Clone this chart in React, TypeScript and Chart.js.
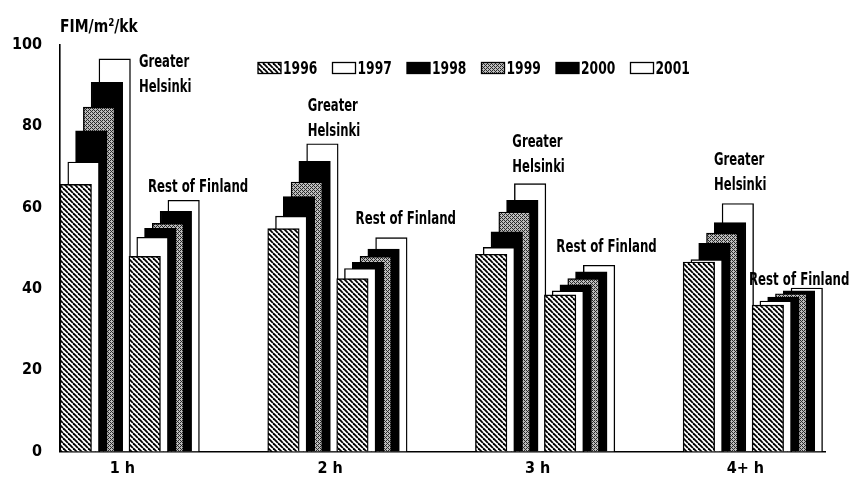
import { useEffect, useRef } from 'react';
import { Chart, registerables } from 'chart.js';

Chart.register(...registerables);

// ---------- data ----------
const categories = ['1 h', '2 h', '3 h', '4+ h'];
const years = ['1996', '1997', '1998', '1999', '2000', '2001'];
const yTicks = [0, 20, 40, 60, 80, 100];
const yAxisTitle = 'FIM/m²/kk';
const helsinkiLabel = ['Greater', 'Helsinki'];
const restLabel = ['Rest of Finland'];

const helsinki1996 = [65.7, 54.8, 48.5, 46.6];
const helsinki1997 = [71.2, 57.9, 50.2, 47.2];
const helsinki1998 = [78.9, 62.7, 54.0, 51.2];
const helsinki1999 = [84.7, 66.3, 58.9, 53.7];
const helsinki2000 = [90.8, 71.4, 61.8, 56.3];
const helsinki2001 = [96.6, 75.7, 65.9, 61.0];

const rest1996 = [48.0, 42.5, 38.5, 36.0];
const rest1997 = [52.7, 45.0, 39.5, 37.0];
const rest1998 = [54.9, 46.5, 41.0, 38.0];
const rest1999 = [56.1, 48.0, 42.5, 38.8];
const rest2000 = [59.1, 49.8, 44.2, 39.5];
const rest2001 = [61.8, 52.6, 45.8, 40.2];

const helsinkiSeries = [helsinki1996, helsinki1997, helsinki1998, helsinki1999, helsinki2000, helsinki2001];
const restSeries = [rest1996, rest1997, rest1998, rest1999, rest2000, rest2001];

// ---------- layout ----------
const FONT_FAMILY = '"DejaVu Sans Condensed", "Liberation Sans Narrow", sans-serif';
const font = (size: number) => `bold ${size}px ${FONT_FAMILY}`;
const BAR_PX = 31.5;
const BAR_W_UNITS = 0.1517;
const YEAR_STEP = 0.0375;
const GROUP_STEP = 0.332;
const X_MAX = 3.683;
const TICK_SHIFT = 0.3;

// per-category label offsets (px) relative to the back (2001) bar
const helsinkiDx = [40, 1, -2, -8];
const helsinkiDy = [29, -12, -16, -18];
const restDx = [-20, -20, -27, -42];
const restDy = [-13, -18, -18, -7];

function makeHatch(): CanvasPattern | string {
  const c = document.createElement('canvas');
  const s = 5;
  c.width = s; c.height = s;
  const g = c.getContext('2d')!;
  g.fillStyle = '#ffffff';
  g.fillRect(0, 0, s, s);
  g.strokeStyle = '#000000';
  g.lineWidth = 1.8;
  for (const k of [-s, 0, s]) {
    g.beginPath();
    g.moveTo(k, 0);
    g.lineTo(k + s, s);
    g.stroke();
  }
  return g.createPattern(c, 'repeat') || '#777';
}

function makeSpeckle(): CanvasPattern | string {
  const c = document.createElement('canvas');
  c.width = 4; c.height = 4;
  const g = c.getContext('2d')!;
  const bitmap = [
    [0, 1, 0, 1],
    [1, 0, 1, 1],
    [0, 1, 0, 1],
    [1, 1, 1, 0],
  ];
  bitmap.forEach((row, yy) => row.forEach((v, xx) => {
    g.fillStyle = v ? '#bdbdbd' : '#2a2a2a';
    g.fillRect(xx, yy, 1, 1);
  }));
  return g.createPattern(c, 'repeat') || '#777';
}

function narrowText(ctx: CanvasRenderingContext2D, text: string, x: number, y: number, size: number, sx: number) {
  ctx.save();
  ctx.font = font(size);
  ctx.translate(x, y);
  ctx.scale(sx, 1);
  ctx.fillText(text, 0, 0);
  ctx.restore();
}

export default function App() {
  const ref = useRef<HTMLCanvasElement>(null);

  useEffect(() => {
    const canvas = ref.current;
    if (!canvas) return;
    const hatch = makeHatch();
    const speckle = makeSpeckle();
    const fills = [hatch, '#ffffff', '#000000', speckle, '#000000', '#ffffff'];

    const datasets: any[] = [];
    years.forEach((yr, j) => {
      [helsinkiSeries, restSeries].forEach((series, g) => {
        datasets.push({
          label: yr,
          data: series[j].map((v, i) => ({
            x: i + g * GROUP_STEP + j * YEAR_STEP + BAR_W_UNITS / 2,
            y: v,
          })),
          backgroundColor: fills[j],
          borderColor: '#000000',
          borderWidth: 1.4,
          borderSkipped: 'bottom',
          barThickness: BAR_PX,
          grouped: false,
        });
      });
    });

    const overlay = {
      id: 'overlay',
      afterDatasetsDraw(chart: any) {
        const ctx = chart.ctx as CanvasRenderingContext2D;
        ctx.save();
        ctx.fillStyle = '#000';
        ctx.textAlign = 'left';
        ctx.textBaseline = 'middle';
        // axis title
        narrowText(ctx, yAxisTitle, chart.chartArea.left, 19, 18, 0.86);

        // legend
        years.forEach((yr, j) => {
          const bx = 250 + j * 74.5;
          const by = 60;
          ctx.fillStyle = fills[j] as any;
          ctx.fillRect(bx, by - 5.5, 23, 11);
          ctx.strokeStyle = '#000';
          ctx.lineWidth = 1.3;
          ctx.strokeRect(bx, by - 5.5, 23, 11);
          ctx.fillStyle = '#000';
          narrowText(ctx, yr, bx + 25, by + 1, 18, 0.76);
        });

        // region labels
        const backIndex = (g: number) => 5 * 2 + g;
        categories.forEach((_, i) => {
          const gh = chart.getDatasetMeta(backIndex(0)).data[i];
          const ghLeft = gh.x - gh.width / 2;
          const ghTop = gh.y;
          narrowText(ctx, helsinkiLabel[0], ghLeft + helsinkiDx[i], ghTop + helsinkiDy[i] - 25, 17, 0.76);
          narrowText(ctx, helsinkiLabel[1], ghLeft + helsinkiDx[i], ghTop + helsinkiDy[i], 17, 0.76);
          const rf = chart.getDatasetMeta(backIndex(1)).data[i];
          const rfLeft = rf.x - rf.width / 2;
          narrowText(ctx, restLabel[0], rfLeft + restDx[i], rf.y + restDy[i], 17, 0.77);
        });
        ctx.restore();
      },
    };

    const chart = new Chart(canvas, {
      type: 'bar',
      data: { datasets },
      plugins: [overlay],
      options: {
        animation: false,
        responsive: false,
        devicePixelRatio: 1,
        layout: { padding: { top: 37, right: 25, left: 0, bottom: 0 } },
        plugins: { legend: { display: false }, tooltip: { enabled: false }, title: { display: false } },
        scales: {
          x: {
            type: 'linear',
            offset: false,
            min: 0,
            max: X_MAX,
            grid: { display: false, drawTicks: false, offset: false },
            border: { display: true, color: '#000', width: 1.6 },
            afterFit: (scale: any) => { scale.height = 26; },
            afterBuildTicks: (scale: any) => {
              scale.ticks = categories.map((_, i) => ({ value: i + TICK_SHIFT }));
            },
            ticks: {
              autoSkip: false,
              maxRotation: 0,
              padding: 8,
              color: '#000',
              font: { family: FONT_FAMILY, size: 16, weight: 'bold' },
              callback: (v: any) => categories[Math.round(Number(v) - TICK_SHIFT)] ?? '',
            },
          },
          y: {
            min: 0,
            max: 100,
            grid: { display: false, drawTicks: false },
            border: { display: true, color: '#000', width: 1.6 },
            afterFit: (scale: any) => { scale.width = 52; },
            afterBuildTicks: (scale: any) => {
              scale.ticks = yTicks.map((v) => ({ value: v }));
            },
            ticks: {
              padding: 18,
              color: '#000',
              font: { family: FONT_FAMILY, size: 16, weight: 'bold' },
            },
          },
        },
      } as any,
    });
    return () => chart.destroy();
  }, []);

  return (
    <div style={{ width: 842, height: 471 }}>
      <canvas ref={ref} width={842} height={471} style={{ display: 'block', width: 842, height: 471 }} />
    </div>
  );
}
